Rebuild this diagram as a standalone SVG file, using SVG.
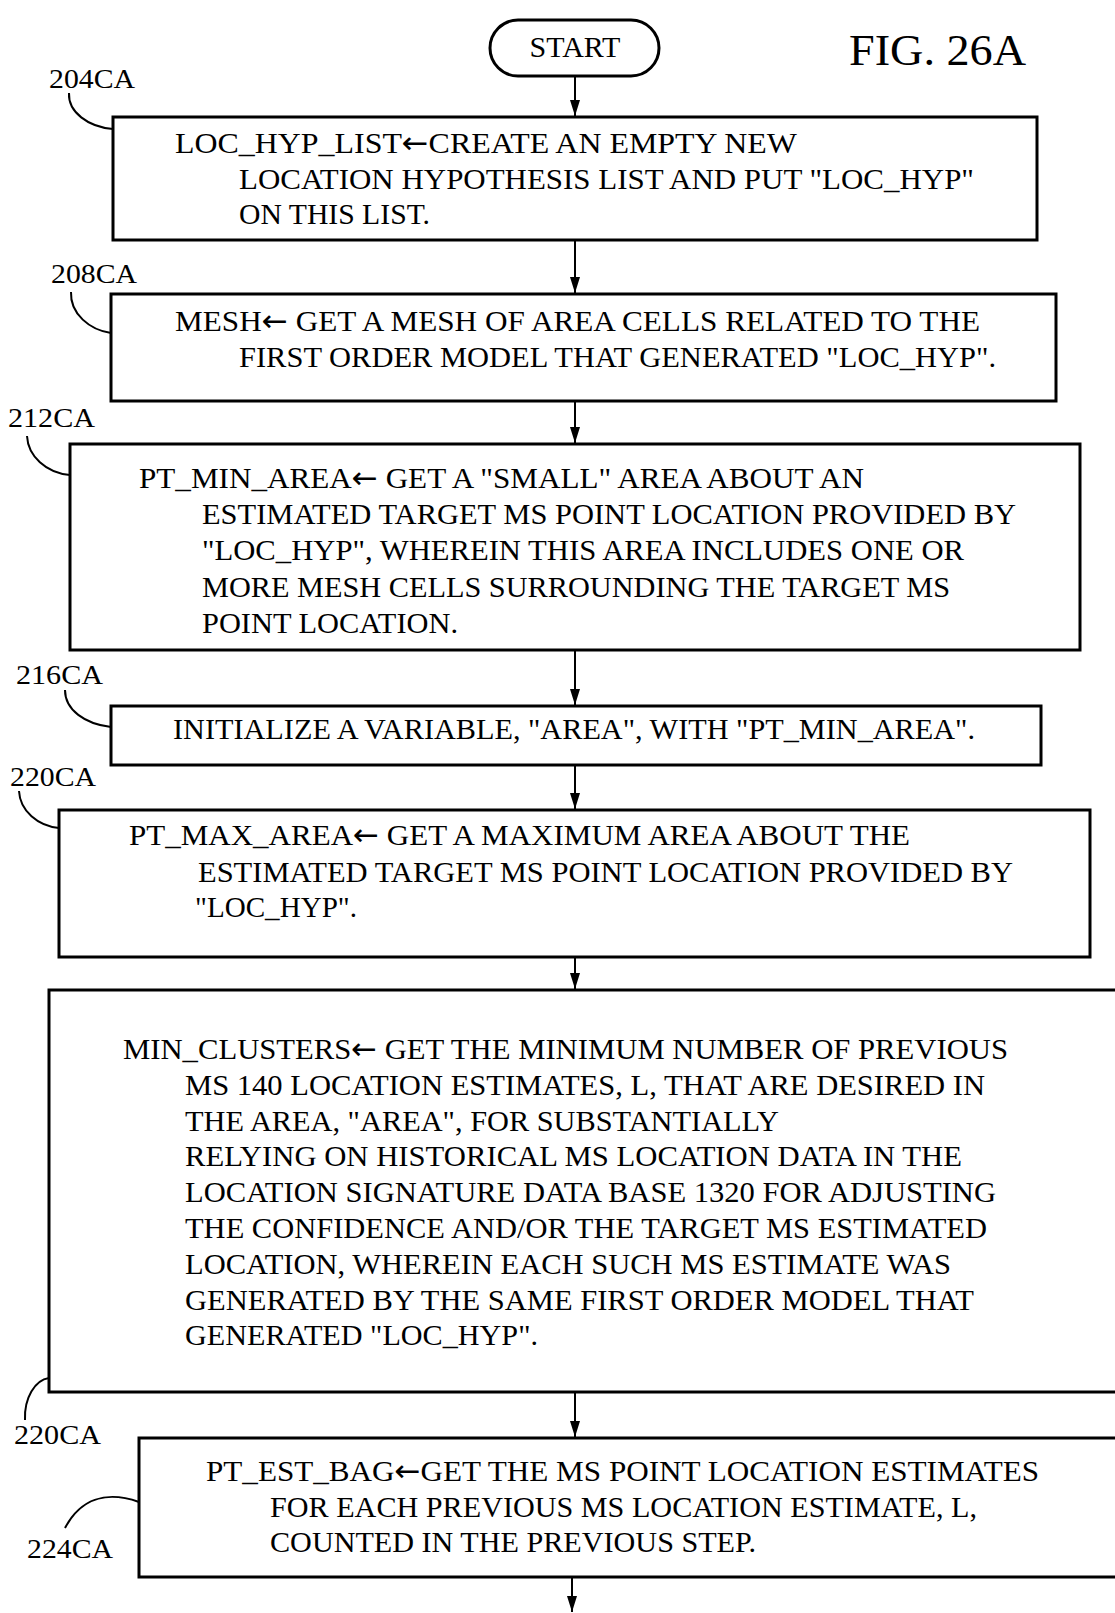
<svg xmlns="http://www.w3.org/2000/svg" width="1115" height="1613" viewBox="0 0 1115 1613">
<style>
.box{fill:#fff;stroke:#000;stroke-width:3}
.t{font-family:"Liberation Serif","Times New Roman",serif;font-size:30px;fill:#000}
.ar{font-family:"DejaVu Sans",sans-serif;font-size:30px}
.lbl{font-family:"Liberation Serif","Times New Roman",serif;font-size:28px;fill:#000}
.fig{font-family:"Liberation Serif","Times New Roman",serif;font-size:45px;fill:#000}
.lead{fill:none;stroke:#000;stroke-width:2}
.conn{fill:none;stroke:#000;stroke-width:2;marker-end:url(#ah)}
</style>
<defs>
<marker id="ah" markerUnits="userSpaceOnUse" markerWidth="16" markerHeight="10" refX="16" refY="5" orient="auto">
<path d="M0,0 L16,5 L0,10 z" fill="#000"/>
</marker>
</defs>
<rect width="1115" height="1613" fill="#fff"/>
<text class="fig" x="849" y="65" textLength="177" lengthAdjust="spacingAndGlyphs">FIG. 26A</text>

<g id="connectors">
<line class="conn" x1="575" y1="76" x2="575" y2="116"/>
<line class="conn" x1="575" y1="240" x2="575" y2="293"/>
<line class="conn" x1="575" y1="401" x2="575" y2="443"/>
<line class="conn" x1="575" y1="650" x2="575" y2="705"/>
<line class="conn" x1="575" y1="765" x2="575" y2="809"/>
<line class="conn" x1="575" y1="957" x2="575" y2="989"/>
<line class="conn" x1="575" y1="1392" x2="575" y2="1437"/>
<line class="conn" x1="572" y1="1577" x2="572" y2="1612"/>
</g>

<g id="start">
<rect class="box" x="490" y="20" width="169" height="56" rx="28" ry="28"/>
<text class="t" x="575" y="57" text-anchor="middle" font-size="29">START</text>
</g>

<g id="n204">
<text class="lbl" x="49" y="88" textLength="86" lengthAdjust="spacingAndGlyphs">204CA</text>
<path class="lead" d="M69,93 C68,112 88,127 113,129"/>
<rect class="box" x="113" y="117" width="924" height="123"/>
<text class="t" x="175" y="153" textLength="622" lengthAdjust="spacingAndGlyphs">LOC_HYP_LIST<tspan class="ar">←</tspan>CREATE  AN EMPTY NEW</text>
<text class="t" x="239" y="189" textLength="735" lengthAdjust="spacingAndGlyphs">LOCATION HYPOTHESIS  LIST AND PUT  "LOC_HYP"</text>
<text class="t" x="239" y="224" textLength="191" lengthAdjust="spacingAndGlyphs">ON THIS LIST.</text>
</g>

<g id="n208">
<text class="lbl" x="51" y="283" textLength="86" lengthAdjust="spacingAndGlyphs">208CA</text>
<path class="lead" d="M71,292 C70,314 90,330 111,333"/>
<rect class="box" x="111" y="294" width="945" height="107"/>
<text class="t" x="175" y="331" textLength="805" lengthAdjust="spacingAndGlyphs">MESH<tspan class="ar">←</tspan> GET A MESH OF AREA CELLS RELATED TO THE</text>
<text class="t" x="239" y="367" textLength="757" lengthAdjust="spacingAndGlyphs">FIRST ORDER MODEL THAT GENERATED "LOC_HYP".</text>
</g>

<g id="n212">
<text class="lbl" x="8" y="427" textLength="87" lengthAdjust="spacingAndGlyphs">212CA</text>
<path class="lead" d="M27,436 C28,456 46,473 70,475"/>
<rect class="box" x="70" y="444" width="1010" height="206"/>
<text class="t" x="139" y="488" textLength="725" lengthAdjust="spacingAndGlyphs">PT_MIN_AREA<tspan class="ar">←</tspan> GET A "SMALL" AREA ABOUT AN</text>
<text class="t" x="202" y="524" textLength="814" lengthAdjust="spacingAndGlyphs">ESTIMATED TARGET MS POINT LOCATION PROVIDED BY</text>
<text class="t" x="202" y="560" textLength="762" lengthAdjust="spacingAndGlyphs">"LOC_HYP", WHEREIN THIS  AREA INCLUDES ONE OR</text>
<text class="t" x="202" y="597" textLength="748" lengthAdjust="spacingAndGlyphs">MORE MESH CELLS SURROUNDING THE TARGET MS</text>
<text class="t" x="202" y="633" textLength="256" lengthAdjust="spacingAndGlyphs">POINT LOCATION.</text>
</g>

<g id="n216">
<text class="lbl" x="16" y="684" textLength="87" lengthAdjust="spacingAndGlyphs">216CA</text>
<path class="lead" d="M65,690 C65,710 85,724 111,727"/>
<rect class="box" x="111" y="706" width="930" height="59"/>
<text class="t" x="173" y="739" textLength="802" lengthAdjust="spacingAndGlyphs">INITIALIZE A VARIABLE, "AREA", WITH "PT_MIN_AREA".</text>
</g>

<g id="n220a">
<text class="lbl" x="10" y="786" textLength="86" lengthAdjust="spacingAndGlyphs">220CA</text>
<path class="lead" d="M19,791 C20,811 38,826 59,828"/>
<rect class="box" x="59" y="810" width="1031" height="147"/>
<text class="t" x="129" y="845" textLength="781" lengthAdjust="spacingAndGlyphs">PT_MAX_AREA<tspan class="ar">←</tspan> GET A MAXIMUM AREA ABOUT THE</text>
<text class="t" x="198" y="882" textLength="815" lengthAdjust="spacingAndGlyphs">ESTIMATED TARGET MS POINT LOCATION PROVIDED BY</text>
<text class="t" x="195" y="917" textLength="162" lengthAdjust="spacingAndGlyphs">"LOC_HYP".</text>
</g>

<g id="n220b">
<rect class="box" x="49" y="990" width="1080" height="402"/>
<text class="t" x="123" y="1059" textLength="885" lengthAdjust="spacingAndGlyphs">MIN_CLUSTERS<tspan class="ar">←</tspan> GET THE MINIMUM NUMBER OF PREVIOUS</text>
<text class="t" x="185" y="1095" textLength="800" lengthAdjust="spacingAndGlyphs">MS 140 LOCATION ESTIMATES, L, THAT ARE DESIRED IN</text>
<text class="t" x="185" y="1131" textLength="594" lengthAdjust="spacingAndGlyphs">THE AREA, "AREA", FOR SUBSTANTIALLY</text>
<text class="t" x="185" y="1166" textLength="777" lengthAdjust="spacingAndGlyphs">RELYING ON HISTORICAL MS LOCATION DATA IN THE</text>
<text class="t" x="185" y="1202" textLength="811" lengthAdjust="spacingAndGlyphs">LOCATION SIGNATURE DATA BASE 1320 FOR ADJUSTING</text>
<text class="t" x="185" y="1238" textLength="802" lengthAdjust="spacingAndGlyphs">THE CONFIDENCE AND/OR THE TARGET MS ESTIMATED</text>
<text class="t" x="185" y="1274" textLength="766" lengthAdjust="spacingAndGlyphs">LOCATION, WHEREIN EACH SUCH MS ESTIMATE WAS</text>
<text class="t" x="185" y="1310" textLength="789" lengthAdjust="spacingAndGlyphs">GENERATED BY THE SAME FIRST ORDER MODEL THAT</text>
<text class="t" x="185" y="1345" textLength="353" lengthAdjust="spacingAndGlyphs">GENERATED "LOC_HYP".</text>
<path class="lead" d="M25,1420 C24,1398 35,1380 49,1378"/>
<text class="lbl" x="14" y="1444" textLength="87" lengthAdjust="spacingAndGlyphs">220CA</text>
</g>

<g id="n224">
<rect class="box" x="139" y="1438" width="990" height="139"/>
<text class="t" x="206" y="1481" textLength="833" lengthAdjust="spacingAndGlyphs">PT_EST_BAG<tspan class="ar">←</tspan>GET THE MS POINT LOCATION ESTIMATES</text>
<text class="t" x="270" y="1517" textLength="707" lengthAdjust="spacingAndGlyphs">FOR EACH PREVIOUS MS LOCATION ESTIMATE, L,</text>
<text class="t" x="270" y="1552" textLength="486" lengthAdjust="spacingAndGlyphs">COUNTED IN THE PREVIOUS STEP.</text>
<path class="lead" d="M65,1528 C80,1500 105,1490 139,1502"/>
<text class="lbl" x="27" y="1558" textLength="86" lengthAdjust="spacingAndGlyphs">224CA</text>
</g>
</svg>
